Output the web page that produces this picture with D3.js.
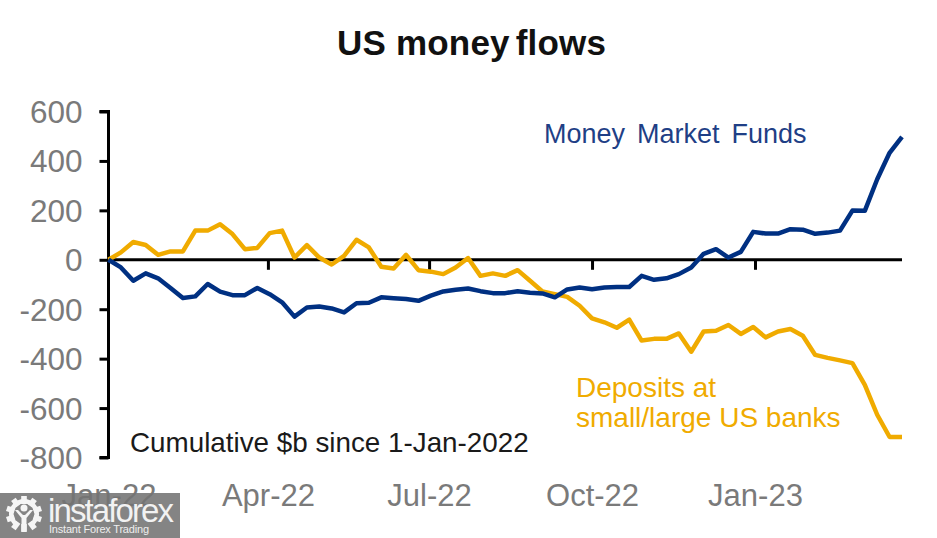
<!DOCTYPE html>
<html><head><meta charset="utf-8">
<script src="https://cdn.jsdelivr.net/npm/d3@7"></script>
<style>
html,body{margin:0;padding:0;background:#fff}
svg{display:block}
text{font-family:"Liberation Sans",Arial,sans-serif}
</style></head><body>
<svg id="c" width="937" height="538"></svg>
<script>
const titleParts = ["US money","flows"];
const startDate = "2022-01-01";
const endDate = "2023-03-25";
const xTickDates = ["2022-01-01","2022-04-01","2022-07-01","2022-10-01","2023-01-01"];
const xTickLabels = ["Jan-22","Apr-22","Jul-22","Oct-22","Jan-23"];
const yTicks = [600,400,200,0,-200,-400,-600,-800];
const deposits = [0,30,72,60,20,34,34,118,118,144,104,43,48,108,118,9,59,9,-19,16,81,50,-28,-35,20,-42,-48,-58,-31,7,
  -65,-55,-65,-42,-85,-128,-139,-150,-186,-237,-253,-275,-242,-327,-320,-320,-298,-372,-290,-287,-264,-300,-272,-314,-290,-280,-307,-385,-397,-407,-418,-506,-627,-717,-717];
const moneyMarket = [0,-31,-85,-55,-75,-114,-155,-148,-98,-129,-143,-143,-114,-139,-172,-230,-193,-189,-197,-213,-176,-174,-152,-156,-159,-166,-145,-128,-121,-116,
  -127,-135,-135,-127,-133,-136,-152,-120,-112,-119,-112,-110,-110,-65,-81,-75,-58,-31,24,43,9,32,113,106,106,124,122,105,110,118,199,198,326,433,497];

const parse = d3.utcParse("%Y-%m-%d");
const weeks = d3.utcDay.range(parse(startDate), d3.utcDay.offset(parse(endDate),1), 7);
const svg = d3.select("#c");
const x = d3.scaleUtc().domain([parse(startDate),parse(endDate)]).range([108.5,902]);
const y = d3.scaleLinear().domain([-800,600]).range([457.5,111.5]);
const grey = "#7a7a7a";

const t = svg.append("text").attr("x",337).attr("y",55)
  .attr("font-size",35).attr("font-weight","bold").attr("fill","#111").attr("letter-spacing",0.2);
t.append("tspan").text(titleParts[0]);
t.append("tspan").attr("dx",3).text(" ").attr("font-size",10);
t.append("tspan").text(titleParts[1]);

const yAxis = svg.append("g").attr("transform","translate(108.5,0)")
  .call(d3.axisLeft(y).tickValues(yTicks).tickSize(9).tickPadding(10).tickFormat(d=>String(d)));
yAxis.select(".domain").attr("stroke","#000").attr("stroke-width",3).attr("d",`M-9,${y(600)}H0V${y(-800)}H-9`);
yAxis.selectAll("line").attr("stroke","#000").attr("stroke-width",3);
yAxis.selectAll("text").attr("font-size",31.5).attr("fill",grey).attr("font-family","Liberation Sans").attr("x",-26).attr("dy","0.35em");

const xAxis = svg.append("g").attr("transform",`translate(0,${y(0)})`)
  .call(d3.axisBottom(x).tickValues(xTickDates.map(parse)).tickSize(10).tickFormat((d,i)=>xTickLabels[i]));
xAxis.select(".domain").attr("stroke","#000").attr("stroke-width",3).attr("d",`M108.5,0H902`);
xAxis.selectAll("line").attr("stroke","#000").attr("stroke-width",3);
xAxis.selectAll("text").attr("font-size",31).attr("fill",grey).attr("font-family","Liberation Sans").attr("y",246).attr("dy",0);
xAxis.selectAll(".tick").filter((d,i)=>i===0).select("line").remove();

const line = d3.line().x((d,i)=>x(weeks[i])).y(d=>y(d));
svg.append("path").datum(deposits).attr("d",line).attr("fill","none").attr("stroke","#F0AB00").attr("stroke-width",4.5).attr("stroke-linejoin","round");
svg.append("path").datum(moneyMarket).attr("d",line).attr("fill","none").attr("stroke","#003082").attr("stroke-width",4.5).attr("stroke-linejoin","round");

svg.append("text").attr("x",544).attr("y",143).attr("font-size",27).attr("fill","#1f3f86").attr("word-spacing",4.5).text("Money Market Funds");
const dep = svg.append("text").attr("font-size",28).attr("fill","#F0AB00");
dep.append("tspan").attr("x",576).attr("y",397).text("Deposits at");
dep.append("tspan").attr("x",576).attr("y",427).text("small/large US banks");
svg.append("text").attr("x",130).attr("y",452).attr("font-size",27.8).attr("fill","#1a1a1a").text("Cumulative $b since 1-Jan-2022");

// watermark
const wm = svg.append("g");
wm.append("rect").attr("x",0).attr("y",493).attr("width",180).attr("height",45).attr("fill","#737373").attr("fill-opacity",0.88);
const gear = wm.append("g").attr("transform","translate(24,514)").attr("fill","#f5f5f5");
gear.selectAll("rect").data(d3.range(10)).join("rect").attr("x",-2.8).attr("y",-18).attr("width",5.6).attr("height",8).attr("transform",d=>`rotate(${d*36})`);
gear.append("path").attr("d",d3.arc()({innerRadius:10.5,outerRadius:15,startAngle:-2.5,endAngle:2.5}));
gear.append("circle").attr("cy",-6).attr("r",3.5);
gear.append("path").attr("d","M-9,-4L-6,-4L-1,1H1L6,-4L9,-4L2.5,4V17H-2.5V4Z");
wm.append("text").attr("x",48).attr("y",522).attr("font-size",33).attr("fill","#f2f2f2").attr("textLength",126).attr("font-family","Open Sans").attr("font-weight",300).text("instaforex");
wm.append("text").attr("x",49).attr("y",533).attr("font-size",11).attr("textLength",100).attr("fill","#eee").text("Instant Forex Trading");
</script>
</body></html>
